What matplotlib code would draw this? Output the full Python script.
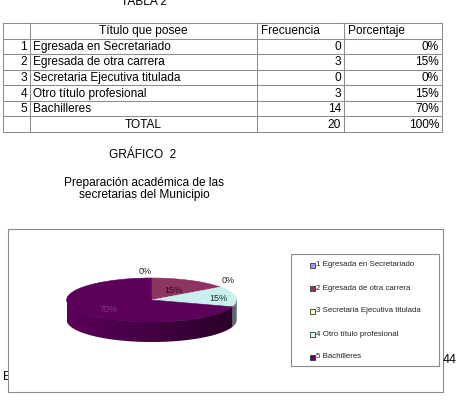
import numpy as np
import matplotlib
matplotlib.use('Agg')
import matplotlib.pyplot as plt
from matplotlib.patches import Rectangle, Polygon
from matplotlib.colors import to_rgb

plt.rcParams['font.family'] = ['Liberation Sans', 'DejaVu Sans']

# ---------------- data ----------------
table_title = "TABLA 2"
col_headers = ["Título que posee", "Frecuencia", "Porcentaje"]
row_numbers = ["1", "2", "3", "4", "5"]
categories = ["Egresada en Secretariado", "Egresada de otra carrera",
              "Secretaria Ejecutiva titulada", "Otro título profesional",
              "Bachilleres"]
frecuencia = [0, 3, 0, 3, 14]
porcentaje = [0, 15, 0, 15, 70]
total_label = "TOTAL"
chart_number = "GRÁFICO  2"
chart_title = ["Preparación académica de las", "secretarias del Municipio"]
page_number = "44"

# ---------------- styles ----------------
slice_colors = ['#9999ff', '#8e3462', '#ffffcc', '#c8eeee', '#5c005a']
legend_colors = ['#9999ff', '#993366', '#ffffcc', '#ccffff', '#660066']
label_colors = ['#111111', '#2a0a1a', '#111111', '#1a2a2a', '#7f3f7c']
label_k = [1.0, 0.55, 1.0, 0.8, 0.62]
line_c = '#8c8c8c'
fs = 8.6

W, H = 458, 400
fig = plt.figure(figsize=(W / 100, H / 100), dpi=100)
ax = fig.add_axes([0, 0, 1, 1])

# ---------------- table ----------------
ax.text(144, 5, table_title, ha='center', va='baseline', fontsize=fs)
col_x = [3, 30, 257, 344, 442]
top, bottom = 23, 132
nrows = len(categories) + 2
rh = (bottom - top) / nrows
for i in range(nrows + 1):
    ax.plot([col_x[0], col_x[-1]], [top + i * rh] * 2, color=line_c, lw=0.75)
for x in col_x:
    ax.plot([x, x], [top, bottom], color=line_c, lw=0.75)


def yc(i):
    return top + (i + 0.5) * rh + 0.5


ax.text((col_x[1] + col_x[2]) / 2, yc(0), col_headers[0], ha='center', va='center', fontsize=fs)
ax.text(col_x[2] + 4, yc(0), col_headers[1], ha='left', va='center', fontsize=fs)
ax.text(col_x[3] + 4, yc(0), col_headers[2], ha='left', va='center', fontsize=fs)
for i, (n, c, f, p) in enumerate(zip(row_numbers, categories, frecuencia, porcentaje)):
    y = yc(i + 1)
    ax.text(col_x[1] - 3, y, n, ha='right', va='center', fontsize=fs)
    ax.text(col_x[1] + 3, y, c, ha='left', va='center', fontsize=fs)
    ax.text(col_x[3] - 3, y, str(f), ha='right', va='center', fontsize=fs)
    ax.text(col_x[4] - 3, y, f"{p}%", ha='right', va='center', fontsize=fs)
y = yc(nrows - 1)
ax.text((col_x[1] + col_x[2]) / 2, y, total_label, ha='center', va='center', fontsize=fs)
ax.text(col_x[3] - 3, y, str(sum(frecuencia)), ha='right', va='center', fontsize=fs)
ax.text(col_x[4] - 3, y, f"{sum(porcentaje)}%", ha='right', va='center', fontsize=fs)

# ---------------- titles ----------------
ax.text(143, 158, chart_number, ha='center', va='baseline', fontsize=fs)
ax.text(144, 186, chart_title[0], ha='center', va='baseline', fontsize=fs)
ax.text(144, 198, chart_title[1], ha='center', va='baseline', fontsize=fs)

# text behind chart box
ax.text(2.5, 379.5, "E", ha='left', va='baseline', fontsize=9, zorder=1)

# chart box
ax.add_patch(Rectangle((7.5, 229), 443 - 7.5, 392 - 229, facecolor='white',
                       edgecolor='#8a8a8a', lw=0.8, zorder=2))
ax.text(442.5, 363, page_number, ha='left', va='baseline', fontsize=9, zorder=5)

# ---------------- 3D pie ----------------
cx, cy, rx, ry, depth = 151.7, 300.0, 85.0, 22.0, 20.0
vals = np.array(frecuencia, float)
fr = vals / vals.sum()
cum = np.concatenate([[0], np.cumsum(fr)])
a_start = 90 - 360 * cum[:-1]
a_end = 90 - 360 * cum[1:]


def ept(t_deg, dy=0.0):
    t = np.radians(t_deg)
    return cx + rx * np.cos(t), cy - ry * np.sin(t) + dy


# side surfaces (front half: angles -180..0 mod 360), with horizontal shading gradient
xs = np.linspace(cx - rx, cx + rx, 400)
fac = 0.72 - 0.28 * (xs - cx) / rx
for i in range(len(vals)):
    if fr[i] <= 0:
        continue
    lo, hi = a_end[i], a_start[i]
    for k in range(-2, 2):
        flo, fhi = -180 + 360 * k, 0 + 360 * k
        s, e = max(lo, flo), min(hi, fhi)
        if e <= s:
            continue
        ts = np.linspace(s, e, max(3, int(e - s) + 2))
        upper = [ept(t) for t in ts]
        lower = [ept(t, depth) for t in ts[::-1]]
        poly = Polygon(upper + lower, closed=True, facecolor='none',
                       edgecolor='none', transform=ax.transData)
        ax.add_patch(poly)
        base = np.array(to_rgb(slice_colors[i]))
        img = (fac[:, None] * base[None, :])[None, :, :]
        im = ax.imshow(img, extent=(cx - rx, cx + rx, cy + depth + ry + 1, cy - ry - 1),
                       aspect='auto', interpolation='bilinear', zorder=3)
        im.set_clip_path(poly)

# top surfaces
for i in range(len(vals)):
    if fr[i] <= 0:
        continue
    ts = np.linspace(a_start[i], a_end[i], max(3, int(abs(a_start[i] - a_end[i]) / 1.0)))
    pts = [(cx, cy)] + [ept(t) for t in ts]
    ax.add_patch(Polygon(pts, closed=True, facecolor=slice_colors[i],
                         edgecolor=slice_colors[i], lw=0.4, zorder=4))

# rim line between top and side
ts = np.linspace(-180, 0, 200)
rim = np.array([ept(t) for t in ts])
ax.plot(rim[:, 0], rim[:, 1], color='#3a003a', lw=0.4, alpha=0.5, zorder=4.5)

# data labels
for i in range(len(vals)):
    tm = (a_start[i] + a_end[i]) / 2
    txt = f"{porcentaje[i]}%"
    if fr[i] <= 0:
        ex, ey = ept(a_start[i])
        ha = 'left' if np.cos(np.radians(tm)) > 0.01 else 'right'
        ax.text(ex + (1.5 if ha == 'left' else 0), ey - 7, txt, ha=ha, va='center',
                fontsize=6.5, color='#222222', zorder=6)
    else:
        t = np.radians(tm)
        k = label_k[i]
        lx = cx + k * rx * np.cos(t)
        ly = cy - k * ry * np.sin(t) + 1.5
        ax.text(lx, ly, txt, ha='center', va='center', fontsize=6.5,
                color=label_colors[i], zorder=6)

# ---------------- legend ----------------
ax.add_patch(Rectangle((291, 254), 148, 112, facecolor='white',
                       edgecolor='#8a8a8a', lw=0.8, zorder=5))
for i, (n, c) in enumerate(zip(row_numbers, categories)):
    y = 265 + i * 23
    ax.add_patch(Rectangle((309.5, y - 2.5), 5, 5, facecolor=legend_colors[i],
                           edgecolor='#333333', lw=0.6, zorder=6))
    ax.text(316.5, y, f"{n} {c}", ha='left', va='center', fontsize=5.7,
            color='#222222', zorder=6)

ax.set_xlim(0, W)
ax.set_ylim(H, 0)
ax.axis('off')
fig.savefig('out.png', dpi=100)
